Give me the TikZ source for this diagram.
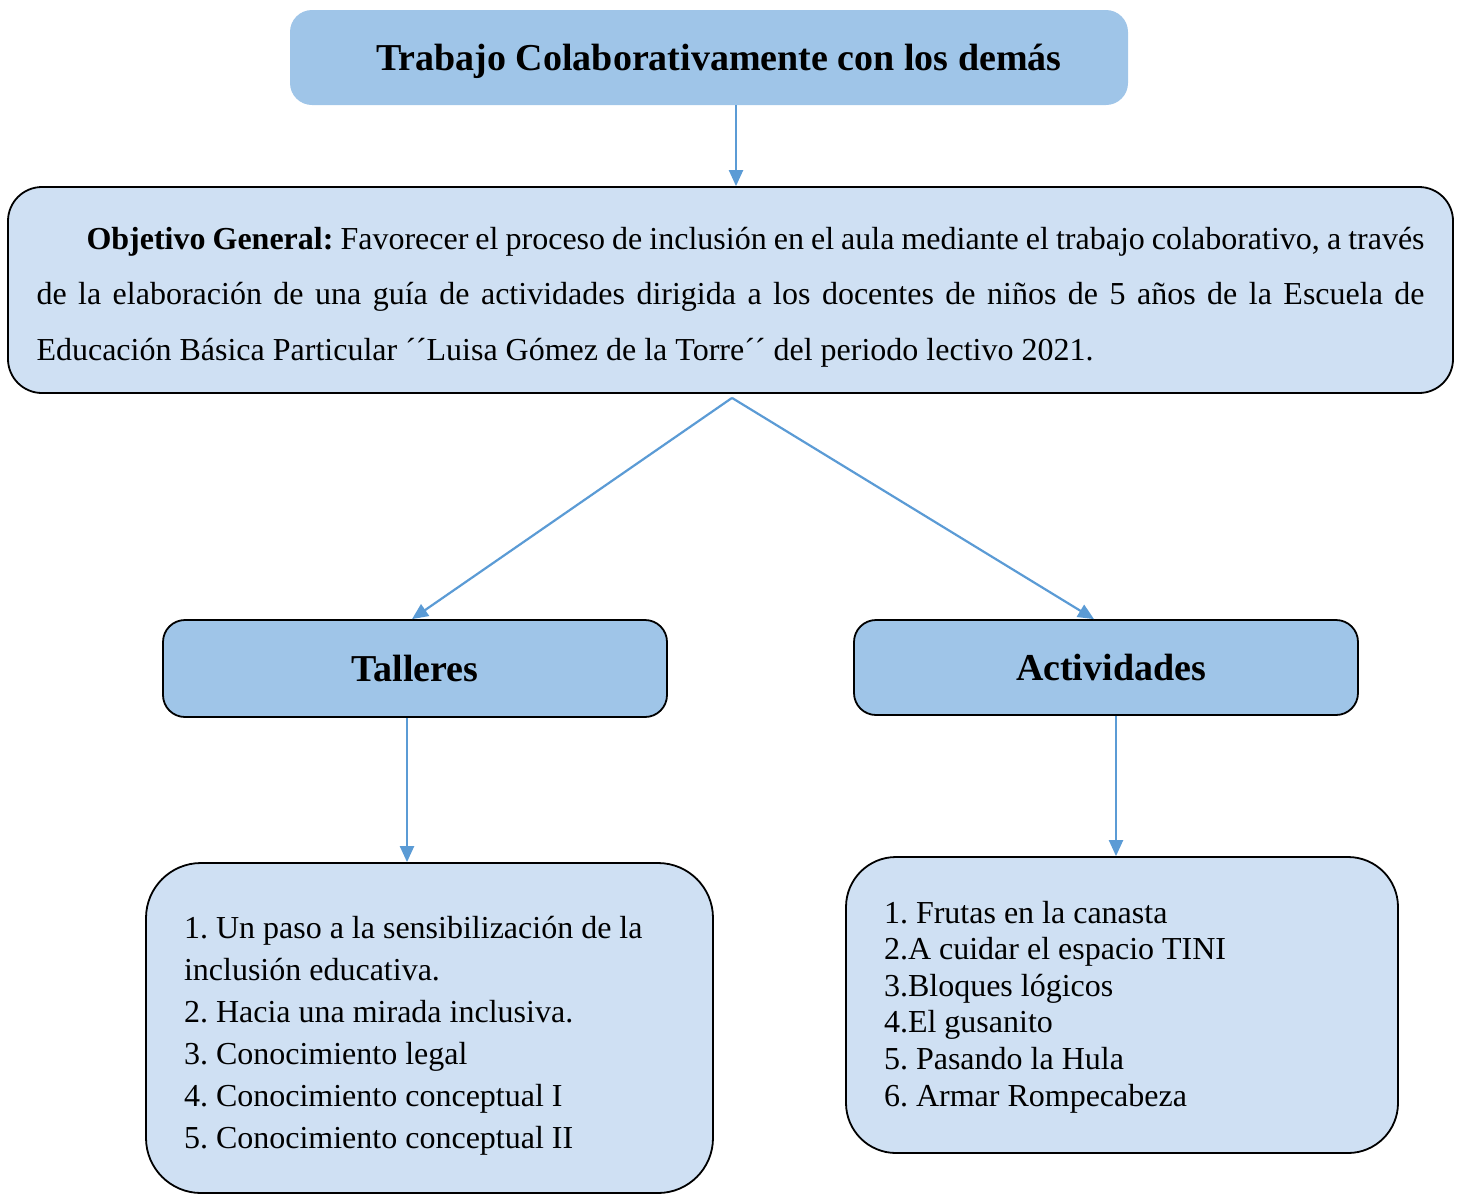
\documentclass[tikz,border=0pt]{standalone}
\usepackage{fontspec}
\setmainfont{Liberation Serif}
\usetikzlibrary{arrows.meta}
\definecolor{darkfill}{RGB}{159,197,232}
\definecolor{lightfill}{RGB}{207,224,243}
\definecolor{arrowblue}{RGB}{91,155,213}
\newcommand{\tightwords}{\spaceskip=8pt plus 2pt minus 1pt\relax}
\tikzset{
  headbox/.style={fill=darkfill, rounded corners=22pt, inner sep=0pt, font=\fontsize{38}{44}\selectfont\bfseries\frenchspacing},
  framed/.style={draw=black, line width=1.8pt},
  listbox/.style={framed, fill=lightfill, inner sep=0pt, font=\fontsize{32}{42}\selectfont\frenchspacing, align=left},
  arr/.style={draw=arrowblue, line width=2.2pt, -{Triangle[length=16pt,width=14pt]}}
}
\begin{document}
\begin{tikzpicture}[x=1pt,y=-1pt]
\useasboundingbox (0,0) rectangle (1461,1195);
\node[headbox, minimum width=838pt, minimum height=95pt] (top) at (709,57.5) {\hspace*{20pt}\rule{0pt}{34pt}Trabajo Colaborativamente con los demás};
\node[framed, fill=lightfill, rounded corners=34pt, inner sep=0pt, minimum width=1445pt, minimum height=206pt,
      text width=1388pt, align=justify, font=\fontsize{32}{55.5}\selectfont\frenchspacing] (obj) at (730.5,290)
  {\hspace*{50pt}\rule{0pt}{36pt}\textbf{Objetivo General:} Favorecer el proceso de inclusión en el aula mediante el trabajo colaborativo, a través\linebreak
   de la elaboración de una guía de actividades dirigida a los docentes de niños de 5 años de la Escuela de\linebreak
   Educación Básica Particular ´´Luisa Gómez de la Torre´´ del periodo lectivo 2021.};
\node[headbox, framed, minimum width=504pt, minimum height=97pt] (tal) at (415,668.5) {Talleres};
\node[headbox, framed, minimum width=504pt, minimum height=95pt] (act) at (1106,667.5) {\hspace*{10pt}Actividades};
\node[listbox, rounded corners=55pt, minimum width=567pt, minimum height=330pt, text width=491pt] (tl) at (429.5,1028)
  {\tightwords\rule{0pt}{38pt}1. Un paso a la sensibilización de la\\
   inclusión educativa.\\
   2. Hacia una mirada inclusiva.\\
   3. Conocimiento legal\\
   4. Conocimiento conceptual I\\
   5. Conocimiento conceptual II};
\node[listbox, rounded corners=50pt, minimum width=552pt, minimum height=296pt, text width=476pt,
      font=\fontsize{32}{36.6}\selectfont\frenchspacing] (al) at (1122,1005)
  {\tightwords\rule{0pt}{26pt}1. Frutas en la canasta\\
   2.A cuidar el espacio TINI\\
   3.Bloques lógicos\\
   4.El gusanito\\
   5. Pasando la Hula\\
   6. Armar Rompecabeza};
\draw[arr] ([xshift=27pt]top.south) -- ([xshift=27pt]top.south |- obj.north);
\draw[arr] ([shift={(1.5,4)}]obj.south) -- ([xshift=-3pt]tal.north);
\draw[arr] ([shift={(1.5,4)}]obj.south) -- ([xshift=-12pt]act.north);
\draw[arr] ([xshift=-8pt]tal.south) -- ([xshift=-8pt]tal.south |- tl.north);
\draw[arr] ([xshift=10pt]act.south) -- ([xshift=10pt]act.south |- al.north);
\end{tikzpicture}
\end{document}
